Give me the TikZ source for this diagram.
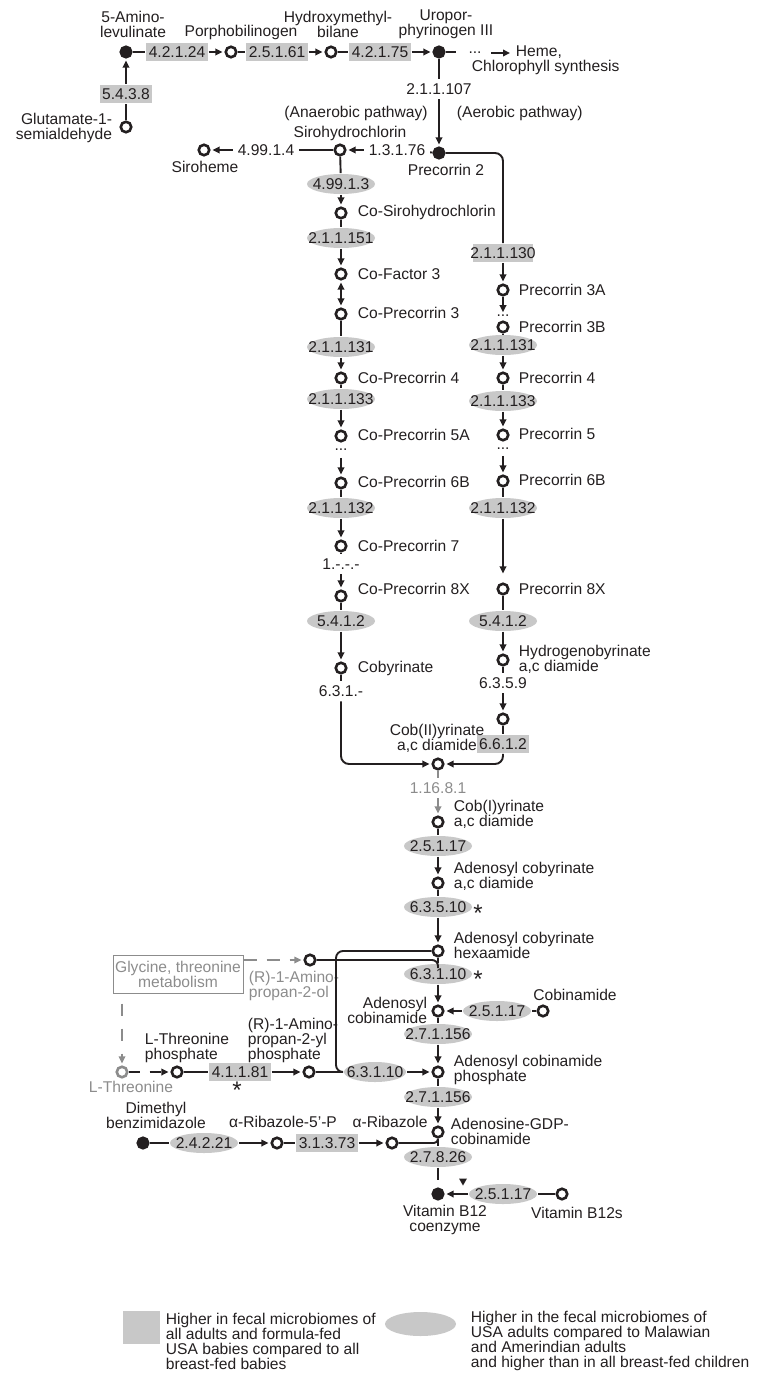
\documentclass[tikz,border=0pt]{standalone}
\usepackage{fontspec}
\setmainfont{Liberation Sans}
\usetikzlibrary{arrows.meta,shapes.geometric}
\definecolor{ink}{RGB}{35,31,32}
\definecolor{ecgray}{RGB}{200,200,200}
\definecolor{paleink}{RGB}{140,140,140}
\newcommand{\ecnum}[1]{\makebox[0pt]{#1}}

\begin{document}
\begin{tikzpicture}[x=1pt, y=-1pt, color=ink, line width=1.9pt,
    >={Triangle[length=7pt,width=6.5pt]},
    every node/.style={font=\fontsize{15.6}{15}\selectfont},
    flow/.style={->, shorten >=2pt},
    met/.style={circle, draw, fill=white, line width=2.6pt, minimum size=10.5pt, inner sep=0pt},
    metfull/.style={met, fill=ink},
    ecbox/.style={rectangle, fill=ecgray, inner xsep=2.5pt, inner ysep=3.5pt},
    ecell/.style={ellipse, fill=ecgray, inner sep=0pt, minimum width=68pt, minimum height=20pt},
    ectext/.style={inner sep=4pt},
    lbl/.style={inner sep=0pt},
    gapdots/.style={inner sep=0pt},
    asterisk/.style={font=\fontsize{24}{24}\selectfont, inner sep=0pt}]
  \useasboundingbox (0,0) rectangle (756,1381);

  % compounds
  \node[metfull] (ala) at (126,52) {};
  \node[met] (pbg) at (231,52) {};
  \node[met] (hmb) at (331,52) {};
  \node[metfull] (uro) at (439,52) {};
  \node[met] (glu) at (126,127) {};
  \node[metfull] (pre2) at (439,153) {};
  \node[met] (siro) at (340,150) {};
  \node[met] (sheme) at (204,150) {};
  \node[met] (cosiro) at (341,213) {};
  \node[met] (cof3) at (341,274) {};
  \node[met] (copre3) at (341,314) {};
  \node[met] (copre4) at (341,378) {};
  \node[met] (copre5a) at (341,436) {};
  \node[met] (copre6b) at (341,483) {};
  \node[met] (copre7) at (341,546) {};
  \node[met] (copre8x) at (341,596) {};
  \node[met] (cobyr) at (341,668) {};
  \node[met] (pre3a) at (503,290) {};
  \node[met] (pre3b) at (503,327) {};
  \node[met] (pre4) at (503,378) {};
  \node[met] (pre5) at (503,435) {};
  \node[met] (pre6b) at (503,481) {};
  \node[met] (pre8x) at (503,589) {};
  \node[met] (hbyr) at (503,660) {};
  \node[met] (hbyrd) at (503,719) {};
  \node[met] (cob2) at (438,764) {};
  \node[met] (cob1) at (438,822) {};
  \node[met] (adocby) at (438,883) {};
  \node[met] (adohexa) at (438,951) {};
  \node[met] (adocbi) at (438,1011) {};
  \node[met] (cbi) at (543,1011) {};
  \node[met] (adocbip) at (438,1072) {};
  \node[met] (adogdp) at (438,1132) {};
  \node[metfull] (b12) at (438,1194) {};
  \node[met] (b12s) at (562,1194) {};
  \node[met] (amprol) at (310,960) {};
  \node[met, draw=paleink] (thr) at (122,1072) {};
  \node[met] (thrp) at (177,1072) {};
  \node[met] (amprolp) at (309,1072) {};
  \node[metfull] (dmb) at (143,1143) {};
  \node[met] (rib5p) at (277,1143) {};
  \node[met] (rib) at (392,1143) {};

  % enzymes
  \node[ecbox] (e42124) at (177,52) {4.2.1.24};
  \node[ecbox] (e25161) at (277,52) {2.5.1.61};
  \node[ecbox] (e42175) at (380,52) {4.2.1.75};
  \node[ecbox] (e5438) at (126,94) {5.4.3.8};
  \node[ectext] (e211107) at (439,89) {2.1.1.107};
  \node[ectext] (e13176) at (397,150) {1.3.1.76};
  \node[ectext] (e49914) at (266,150) {4.99.1.4};
  \node[ecell] (e49913) at (341,184) {\ecnum{4.99.1.3}};
  \node[ecell] (e211151) at (341,238) {\ecnum{2.1.1.151}};
  \node[ecell] (e211131a) at (341,347) {\ecnum{2.1.1.131}};
  \node[ecell] (e211133a) at (341,399) {\ecnum{2.1.1.133}};
  \node[ecell] (e211132a) at (341,508) {\ecnum{2.1.1.132}};
  \node[ectext] (e1xxx) at (341,564) {1.-.-.-};
  \node[ecell] (e5412a) at (341,621) {\ecnum{5.4.1.2}};
  \node[ectext] (e631) at (341,691) {6.3.1.-};
  \node[ecbox, inner xsep=-3pt] (e211130) at (503,253) {2.1.1.130};
  \node[ecell] (e211131b) at (503,345) {\ecnum{2.1.1.131}};
  \node[ecell] (e211133b) at (503,401) {\ecnum{2.1.1.133}};
  \node[ecell] (e211132b) at (503,508) {\ecnum{2.1.1.132}};
  \node[ecell] (e5412b) at (503,621) {\ecnum{5.4.1.2}};
  \node[ectext] (e6359) at (503,683) {6.3.5.9};
  \node[ecbox] (e6612) at (503,744) {6.6.1.2};
  \node[ectext, text=paleink] (e11681) at (438,788) {1.16.8.1};
  \node[ecell] (e25117a) at (438,846) {\ecnum{2.5.1.17}};
  \node[ecell] (e63510) at (438,907) {\ecnum{6.3.5.10}};
  \node[ecell] (e63110a) at (438,974) {\ecnum{6.3.1.10}};
  \node[ecell] (e25117b) at (497,1011) {\ecnum{2.5.1.17}};
  \node[ecell] (e271156a) at (438,1034) {\ecnum{2.7.1.156}};
  \node[ecell, minimum width=62pt] (e63110b) at (375,1072) {\ecnum{6.3.1.10}};
  \node[ecell] (e271156b) at (438,1097) {\ecnum{2.7.1.156}};
  \node[ecell] (e27826) at (438,1157) {\ecnum{2.7.8.26}};
  \node[ecell] (e25117c) at (503,1194) {\ecnum{2.5.1.17}};
  \node[ecell] (e24221) at (204,1143) {\ecnum{2.4.2.21}};
  \node[ecbox] (e31373) at (327,1143) {3.1.3.73};
  \node[ecbox] (e41181) at (240,1072) {4.1.1.81};
  \node[asterisk] (st1) at (478,913) {*};
  \node[asterisk] (st2) at (478,979) {*};
  \node[asterisk] (st3) at (237,1090) {*};

  % names
  \node[lbl, align=center] (nala) at (133,24) {5-Amino-\\levulinate};
  \node[lbl] (npbg) at (241,32) {Porphobilinogen};
  \node[lbl, align=center] (nhmb) at (338,24) {Hydroxymethyl-\\bilane};
  \node[lbl, align=center] (nuro) at (446,24) {Uropor-\\phyrinogen III};
  \node[gapdots] (hdots) at (475,53) {...};
  \node[lbl, anchor=west] (lheme) at (515,52) {Heme,};
  \node[lbl, anchor=west] (nchl) at (471,67) {Chlorophyll synthesis};
  \node[lbl, align=right, anchor=east] (nglu) at (113,128) {Glutamate-1-\\semialdehyde};
  \node[lbl] (nanaer) at (356,113) {(Anaerobic pathway)};
  \node[lbl, anchor=west] (naer) at (456,113) {(Aerobic pathway)};
  \node[lbl] (nsiro) at (350,133) {Sirohydrochlorin};
  \node[lbl] (npre2) at (446,170) {Precorrin 2};
  \node[lbl] (nsheme) at (205,167) {Siroheme};
  \node[lbl, anchor=west] (ncosiro) at (357,212) {Co-Sirohydrochlorin};
  \node[lbl, anchor=west] (ncof3) at (357,274) {Co-Factor 3};
  \node[lbl, anchor=west] (ncopre3) at (357,313) {Co-Precorrin 3};
  \node[lbl, anchor=west] (ncopre4) at (357,378) {Co-Precorrin 4};
  \node[lbl, anchor=west] (ncopre5a) at (357,435) {Co-Precorrin 5A};
  \node[gapdots] (cdots) at (341,450) {...};
  \node[lbl, anchor=west] (ncopre6b) at (357,482) {Co-Precorrin 6B};
  \node[lbl, anchor=west] (ncopre7) at (357,546) {Co-Precorrin 7};
  \node[lbl, anchor=west] (ncopre8x) at (357,589) {Co-Precorrin 8X};
  \node[lbl, anchor=west] (ncobyr) at (357,668) {Cobyrinate};
  \node[lbl, anchor=west] (npre3a) at (518,290) {Precorrin 3A};
  \node[gapdots] (pdots1) at (503,316) {...};
  \node[lbl, anchor=west] (npre3b) at (518,327) {Precorrin 3B};
  \node[lbl, anchor=west] (npre4) at (518,378) {Precorrin 4};
  \node[lbl, anchor=west] (npre5) at (518,434) {Precorrin 5};
  \node[gapdots] (pdots2) at (503,449) {...};
  \node[lbl, anchor=west] (npre6b) at (518,480) {Precorrin 6B};
  \node[lbl, anchor=west] (npre8x) at (518,589) {Precorrin 8X};
  \node[lbl, anchor=west, align=left] (nhbyr) at (518,659) {Hydrogenobyrinate\\a,c diamide};
  \node[lbl, align=center] (ncob2) at (437,738) {Cob(II)yrinate\\a,c diamide};
  \node[lbl, anchor=west, align=left] (ncob1) at (453,814) {Cob(I)yrinate\\a,c diamide};
  \node[lbl, anchor=west, align=left] (nadocby) at (453,876) {Adenosyl cobyrinate\\a,c diamide};
  \node[lbl, anchor=west, align=left] (nadohexa) at (453,945) {Adenosyl cobyrinate\\hexaamide};
  \node[lbl, anchor=east, align=right] (nadocbi) at (428,1010) {Adenosyl\\cobinamide};
  \node[lbl] (ncbi) at (575,995) {Cobinamide};
  \node[lbl, anchor=west, align=left] (nadocbip) at (453,1070) {Adenosyl cobinamide\\phosphate};
  \node[lbl, anchor=west, align=left] (nadogdp) at (450,1131) {Adenosine-GDP-\\cobinamide};
  \node[lbl, align=center] (nb12) at (445,1220) {Vitamin B12\\coenzyme};
  \node[lbl] (nb12s) at (577,1213) {Vitamin B12s};
  \node[lbl, align=center] (ndmb) at (156,1115) {Dimethyl\\benzimidazole};
  \node[lbl] (nrib5p) at (283,1122) {α-Ribazole-5’-P};
  \node[lbl] (nrib) at (390,1122) {α-Ribazole};
  \node[lbl, anchor=west, align=left] (nthrp) at (144,1048) {L-Threonine\\phosphate};
  \node[lbl, anchor=west, align=left] (namprolp) at (247,1040) {(R)-1-Amino-\\propan-2-yl\\phosphate};
  \node[lbl, anchor=west, align=left, text=paleink] (namprol) at (248,986) {(R)-1-Amino-\\propan-2-ol};
  \node[lbl, text=paleink] (nthr) at (131,1087) {L-Threonine};
  \node[draw=paleink, line width=1pt, text=paleink, align=center, inner sep=0pt,
        minimum width=130pt, minimum height=38pt] (glybox) at (178,974) {Glycine, threonine\\metabolism};
  \coordinate (uroend) at (456,52);
  \coordinate (hexajoin) at (438,968);
  \coordinate (loopturn) at (336,1072);

  % reactions
  \draw (ala) -- (e42124); \draw[flow] (e42124) -- (pbg);
  \draw (pbg) -- (e25161); \draw[flow] (e25161) -- (hmb);
  \draw (hmb) -- (e42175); \draw[flow] (e42175) -- (uro);
  \draw (glu) -- (e5438); \draw[flow] (e5438) -- (ala);
  \draw (uro) -- (uroend);
  \draw[flow, shorten <=9pt, shorten >=5pt] (hdots) -- (hdots -| lheme.west);
  \draw (uro) -- (e211107); \draw[flow] (e211107) -- (pre2);
  \draw (pre2) -- (e13176); \draw[flow] (e13176) -- (siro);
  \draw (siro) -- (e49914); \draw[flow] (e49914) -- (sheme);
  % anaerobic branch
  \draw (siro) -- (e49913); \draw[flow] (e49913) -- (cosiro);
  \draw (cosiro) -- (e211151); \draw[flow] (e211151) -- (cof3);
  \draw[flow, <->, shorten <=2pt] (cof3) -- (copre3);
  \draw (copre3) -- (e211131a); \draw[flow] (e211131a) -- (copre4);
  \draw (copre4) -- (e211133a); \draw[flow] (e211133a) -- (copre5a);
  \draw[flow, shorten <=6pt] (cdots) -- (copre6b);
  \draw (copre6b) -- (e211132a); \draw[flow] (e211132a) -- (copre7);
  \draw (copre7) -- (e1xxx); \draw[flow] (e1xxx) -- (copre8x);
  \draw (copre8x) -- (e5412a); \draw[flow] (e5412a) -- (cobyr);
  \draw (cobyr) -- (e631); \draw[flow, rounded corners=8pt] (e631) |- (cob2);
  % aerobic branch
  \draw[rounded corners=8pt] (pre2) -| (e211130);
  \draw[flow] (e211130) -- (pre3a);
  \draw[flow] (pre3a) -- (pdots1);
  \draw (pre3b) -- (e211131b); \draw[flow] (e211131b) -- (pre4);
  \draw (pre4) -- (e211133b); \draw[flow] (e211133b) -- (pre5);
  \draw[flow, shorten <=5pt] (pdots2) -- (pre6b);
  \draw (pre6b) -- (e211132b); \draw[flow, shorten >=9pt] (e211132b) -- (pre8x);
  \draw (pre8x) -- (e5412b); \draw[flow] (e5412b) -- (hbyr);
  \draw (hbyr) -- (e6359); \draw[flow] (e6359) -- (hbyrd);
  \draw (hbyrd) -- (e6612); \draw[flow, rounded corners=8pt] (e6612) |- (cob2);
  % common trunk
  \draw[paleink] (cob2) -- (e11681); \draw[flow, paleink] (e11681) -- (cob1);
  \draw (cob1) -- (e25117a); \draw[flow] (e25117a) -- (adocby);
  \draw (adocby) -- (e63510); \draw[flow] (e63510) -- (adohexa);
  \draw (adohexa) -- (e63110a); \draw[flow] (e63110a) -- (adocbi);
  \draw[rounded corners=6pt] (amprol) -| (hexajoin);
  \draw[rounded corners=7pt] (adohexa) -| (loopturn) -- (e63110b);
  \draw (cbi) -- (e25117b); \draw[flow] (e25117b) -- (adocbi);
  \draw (adocbi) -- (e271156a); \draw[flow] (e271156a) -- (adocbip);
  \draw (amprolp) -- (e63110b); \draw[flow] (e63110b) -- (adocbip);
  \draw (adocbip) -- (e271156b); \draw[flow] (e271156b) -- (adogdp);
  \draw (adogdp) -- (e27826);
  \draw[rounded corners=4pt] (rib) -| (adogdp);
  \draw[dash pattern=on 12pt off 8pt] (e27826) -- (b12);
  \fill (459,1178.5) -- (467,1178.5) -- (463,1185.5) -- cycle;
  \draw (b12s) -- (e25117c); \draw[flow] (e25117c) -- (b12);
  % lower lane
  \draw (dmb) -- (e24221); \draw[flow] (e24221) -- (rib5p);
  \draw (rib5p) -- (e31373); \draw[flow] (e31373) -- (rib);
  \draw[flow, dash pattern=on 11pt off 10pt] (thr) -- (thrp);
  \draw (thrp) -- (e41181); \draw[flow] (e41181) -- (amprolp);
  \draw[flow, paleink, line width=1.6pt, dash pattern=on 13pt off 10pt] (glybox.east |- amprol) -- (amprol);
  \draw[flow, paleink, line width=1.6pt, dash pattern=on 12pt off 13pt, dash phase=15pt] (glybox.south -| thr) -- (thr);

  % key
  \node[ecbox, minimum width=37pt, minimum height=33pt] (keybox) at (141.5,1327) {};
  \node[lbl, anchor=west, align=left] (keyboxtxt) at (165,1341)
    {Higher in fecal microbiomes of\\all adults and formula-fed\\USA babies compared to all\\breast-fed babies};
  \node[ecell, minimum width=71pt, minimum height=24pt] (keyell) at (420.5,1324) {};
  \node[lbl, anchor=west, align=left] (keyelltxt) at (470,1341)
    {Higher in the fecal microbiomes of\\USA adults compared to Malawian\\and Amerindian adults\\and higher than in all breast-fed children};
\end{tikzpicture}
\end{document}
